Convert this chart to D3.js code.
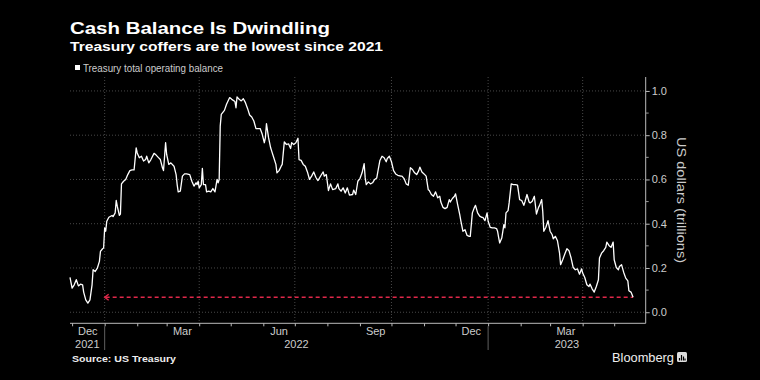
<!DOCTYPE html>
<html>
<head>
<meta charset="utf-8">
<script src="https://cdn.jsdelivr.net/npm/d3@7"></script>
<style>
  html, body { margin: 0; padding: 0; background: #000; }
  svg { display: block; }
  text { font-family: "Liberation Sans", Arial, sans-serif; }
</style>
</head>
<body>
<svg id="chart" width="760" height="380"></svg>
<script>
// ---------------- DATA ----------------
const title = "Cash Balance Is Dwindling";
const subtitle = "Treasury coffers are the lowest since 2021";
const legendLabel = "Treasury total operating balance";
const sourceText = "Source: US Treasury";
const axisTitle = "US dollars (trillions)";

const dates = [
 "2021-11-29","2021-12-01","2021-12-03","2021-12-05","2021-12-07","2021-12-09","2021-12-11","2021-12-12","2021-12-14","2021-12-16",
 "2021-12-18","2021-12-20","2021-12-21","2021-12-23","2021-12-25","2021-12-27","2021-12-28","2021-12-30","2021-12-31",
 "2022-01-01","2022-01-02","2022-01-03","2022-01-05","2022-01-08","2022-01-09","2022-01-11","2022-01-12","2022-01-13","2022-01-15",
 "2022-01-16","2022-01-17","2022-01-19","2022-01-21","2022-01-23","2022-01-25","2022-01-27","2022-01-29","2022-01-31",
 "2022-02-01","2022-02-03","2022-02-05","2022-02-07","2022-02-09","2022-02-10","2022-02-12","2022-02-14","2022-02-17","2022-02-19",
 "2022-02-21","2022-02-23","2022-02-25","2022-02-26","2022-02-28",
 "2022-03-01","2022-03-03","2022-03-05","2022-03-08","2022-03-10","2022-03-11","2022-03-12","2022-03-14","2022-03-16","2022-03-18",
 "2022-03-20","2022-03-23","2022-03-25","2022-03-27","2022-03-29","2022-03-30","2022-03-31",
 "2022-04-01","2022-04-03","2022-04-04","2022-04-05","2022-04-07","2022-04-08","2022-04-10","2022-04-12","2022-04-14","2022-04-16",
 "2022-04-18","2022-04-19","2022-04-20","2022-04-21","2022-04-22","2022-04-25","2022-04-27","2022-04-30",
 "2022-05-02","2022-05-05","2022-05-06","2022-05-07","2022-05-09","2022-05-11","2022-05-13","2022-05-15","2022-05-17","2022-05-19",
 "2022-05-21","2022-05-23","2022-05-25","2022-05-27","2022-05-29","2022-05-31",
 "2022-06-02","2022-06-03","2022-06-04","2022-06-06","2022-06-08","2022-06-09","2022-06-11","2022-06-13","2022-06-14","2022-06-16",
 "2022-06-18","2022-06-19","2022-06-21","2022-06-23","2022-06-25","2022-06-27","2022-06-28","2022-06-30",
 "2022-07-02","2022-07-04","2022-07-05","2022-07-07","2022-07-09","2022-07-11","2022-07-13","2022-07-15","2022-07-17","2022-07-19",
 "2022-07-21","2022-07-23","2022-07-26","2022-07-28","2022-07-29","2022-07-31",
 "2022-08-02","2022-08-04","2022-08-06","2022-08-09","2022-08-11","2022-08-12","2022-08-14","2022-08-16","2022-08-18","2022-08-20",
 "2022-08-22","2022-08-25","2022-08-26","2022-08-28","2022-08-30",
 "2022-09-01","2022-09-03","2022-09-05","2022-09-06","2022-09-07","2022-09-09","2022-09-11","2022-09-13","2022-09-15","2022-09-17",
 "2022-09-18","2022-09-20","2022-09-22","2022-09-24","2022-09-26","2022-09-27","2022-09-29",
 "2022-10-01","2022-10-03","2022-10-05","2022-10-07","2022-10-10","2022-10-11","2022-10-13","2022-10-15","2022-10-17","2022-10-19",
 "2022-10-21","2022-10-23","2022-10-25","2022-10-27","2022-10-28","2022-10-30",
 "2022-11-01","2022-11-03","2022-11-05","2022-11-06","2022-11-08","2022-11-10","2022-11-12","2022-11-14","2022-11-16","2022-11-17",
 "2022-11-19","2022-11-21","2022-11-23","2022-11-25","2022-11-26","2022-11-28","2022-11-30",
 "2022-12-01","2022-12-03","2022-12-05","2022-12-06","2022-12-08","2022-12-10","2022-12-12","2022-12-14","2022-12-15","2022-12-17",
 "2022-12-19","2022-12-20","2022-12-22","2022-12-24","2022-12-26","2022-12-27","2022-12-29","2022-12-31",
 "2023-01-01","2023-01-03","2023-01-05","2023-01-07","2023-01-09","2023-01-10","2023-01-11","2023-01-12","2023-01-14","2023-01-16",
 "2023-01-17","2023-01-18","2023-01-20","2023-01-21","2023-01-23","2023-01-25","2023-01-27","2023-01-29","2023-01-31",
 "2023-02-02","2023-02-04","2023-02-05","2023-02-07","2023-02-09","2023-02-10","2023-02-12","2023-02-14","2023-02-16","2023-02-18",
 "2023-02-19","2023-02-21","2023-02-22","2023-02-23","2023-02-25","2023-02-27",
 "2023-03-01","2023-03-03","2023-03-04","2023-03-06","2023-03-08","2023-03-10","2023-03-11","2023-03-13","2023-03-15","2023-03-17",
 "2023-03-19","2023-03-21","2023-03-23","2023-03-25","2023-03-27","2023-03-29","2023-03-31",
 "2023-04-01","2023-04-03","2023-04-05","2023-04-07","2023-04-08","2023-04-10","2023-04-12","2023-04-14","2023-04-16","2023-04-17",
 "2023-04-19","2023-04-21","2023-04-23","2023-04-24","2023-04-26","2023-04-28","2023-04-30",
 "2023-05-01","2023-05-03","2023-05-05","2023-05-06","2023-05-08","2023-05-10","2023-05-12","2023-05-14","2023-05-15","2023-05-17",
 "2023-05-19"
];

const balance = [
 0.157,0.109,0.124,0.147,0.119,0.127,0.124,0.091,0.056,0.041,
 0.056,0.124,0.192,0.184,0.199,0.230,0.275,0.287,0.290,
 0.381,0.366,0.411,0.429,0.437,0.432,0.449,0.505,0.479,0.438,
 0.444,0.580,0.592,0.600,0.622,0.640,0.643,0.643,0.743,
 0.720,0.698,0.705,0.683,0.690,0.705,0.675,0.690,0.718,0.710,
 0.700,0.690,0.653,0.640,0.766,
 0.713,0.668,0.675,0.660,0.622,0.577,0.544,0.547,0.615,0.625,
 0.625,0.622,0.592,0.570,0.585,0.577,0.592,
 0.562,0.577,0.650,0.577,0.577,0.544,0.547,0.544,0.559,0.544,
 0.600,0.585,0.600,0.841,0.894,0.912,0.940,0.970,
 0.962,0.952,0.924,0.973,0.962,0.955,0.965,0.947,0.921,0.891,
 0.882,0.864,0.830,0.830,0.830,0.804,
 0.766,0.789,0.852,0.789,0.743,0.728,0.698,0.668,0.630,0.640,
 0.660,0.668,0.770,0.758,0.761,0.740,0.766,0.758,
 0.766,0.786,0.690,0.686,0.668,0.660,0.634,0.600,0.615,0.634,
 0.610,0.595,0.619,0.634,0.615,0.622,
 0.550,0.580,0.554,0.559,0.580,0.559,0.547,0.562,0.539,0.562,
 0.529,0.532,0.552,0.532,0.592,
 0.604,0.630,0.671,0.607,0.577,0.589,0.580,0.585,0.600,0.607,
 0.634,0.686,0.705,0.698,0.680,0.695,0.705,
 0.680,0.640,0.625,0.619,0.615,0.615,0.604,0.580,0.574,0.653,
 0.645,0.630,0.622,0.640,0.656,0.634,
 0.625,0.615,0.554,0.550,0.532,0.524,0.544,0.517,0.524,0.498,
 0.474,0.468,0.474,0.509,0.498,0.514,0.524,
 0.535,0.486,0.441,0.414,0.366,0.373,0.347,0.343,0.343,0.449,
 0.474,0.483,0.449,0.434,0.429,0.429,0.414,0.449,
 0.411,0.384,0.381,0.381,0.378,0.366,0.338,0.313,0.335,0.396,
 0.381,0.449,0.459,0.494,0.580,0.577,0.577,0.574,0.509,
 0.505,0.483,0.498,0.532,0.498,0.494,0.502,0.524,0.444,0.474,
 0.483,0.509,0.456,0.366,0.384,0.414,
 0.366,0.350,0.332,0.343,0.323,0.267,0.215,0.237,0.263,0.287,
 0.278,0.245,0.202,0.192,0.196,0.172,0.196,
 0.177,0.157,0.124,0.116,0.127,0.106,0.091,0.116,0.147,0.245,
 0.267,0.278,0.293,0.317,0.302,0.293,0.317,
 0.237,0.202,0.192,0.207,0.215,0.181,0.154,0.142,0.097,0.091,
 0.068
];

const yTicks = [0.0, 0.2, 0.4, 0.6, 0.8, 1.0];
const yMinorTicks = [0.1, 0.3, 0.5, 0.7, 0.9];
const xDomain = ["2021-11-29", "2023-05-31"];
const gridDates = ["2022-01-01", "2022-04-01", "2022-07-01", "2022-10-01", "2023-01-01", "2023-04-01"];
const monthLabels = ["Dec", "Mar", "Jun", "Sep", "Dec", "Mar"];
const monthLabelDates = ["2021-12-16", "2022-03-16", "2022-06-16", "2022-09-16", "2022-12-16", "2023-03-16"];
const yearLabels = ["2021", "2022", "2023"];
const yearSpans = [["2021-11-29", "2022-01-01"], ["2022-01-01", "2023-01-01"], ["2023-01-01", "2023-05-31"]];
const yearBreaks = ["2022-01-01", "2023-01-01"];
const lowLevel = 0.068;
const lowStart = "2022-01-01";

// ---------------- CHART ----------------
(function () {
const parse = d3.utcParse("%Y-%m-%d");
const data = dates.map((d, i) => ({ date: parse(d), value: balance[i] }));

const svg = d3.select("#chart");
svg.append("rect").attr("width", 760).attr("height", 380).attr("fill", "#000");

const pLeft = 70, pRight = 645.7, pTop = 77, pBottom = 323.3;
const x = d3.scaleUtc().domain(xDomain.map(parse)).range([pLeft, pRight]);
const y = d3.scaleLinear().domain([-0.05, 1.063]).range([pBottom, pTop]);

// Titles
const boldFont = "DejaVu Sans, Verdana, sans-serif";
svg.append("text").attr("x", 70).attr("y", 34.3).attr("fill", "#fff")
  .attr("font-family", boldFont).attr("font-size", 16).attr("font-weight", "bold")
  .attr("textLength", 260).attr("lengthAdjust", "spacingAndGlyphs").text(title);
svg.append("text").attr("x", 70).attr("y", 50.7).attr("fill", "#fff")
  .attr("font-family", boldFont).attr("font-size", 12).attr("font-weight", "bold")
  .attr("textLength", 313).attr("lengthAdjust", "spacingAndGlyphs").text(subtitle);

// Legend
svg.append("rect").attr("x", 75).attr("y", 65).attr("width", 5).attr("height", 5).attr("fill", "#fff");
svg.append("text").attr("x", 83).attr("y", 71.5).attr("fill", "#ccc")
  .attr("font-size", 10).attr("textLength", 140).attr("lengthAdjust", "spacingAndGlyphs").text(legendLabel);

// Grid
const grid = svg.append("g").attr("stroke", "#5a5a5a").attr("stroke-width", 0.8).attr("stroke-dasharray", "1,2");
grid.selectAll("line.h").data(yTicks).join("line").attr("class", "h")
  .attr("x1", pLeft).attr("x2", pRight)
  .attr("y1", d => y(d)).attr("y2", d => y(d));
grid.selectAll("line.v").data(gridDates.map(parse)).join("line").attr("class", "v")
  .attr("x1", d => x(d)).attr("x2", d => x(d))
  .attr("y1", pTop).attr("y2", pBottom);

// Right axis
const yAxis = d3.axisRight(y).tickValues(yTicks).tickFormat(d3.format(".1f")).tickSize(4).tickPadding(2);
const gy = svg.append("g").attr("transform", `translate(${pRight},0)`).call(yAxis);
gy.select(".domain").attr("stroke", "#bbb").attr("d", `M0,${pTop}V${pBottom}`);
gy.selectAll(".tick line").attr("stroke", "#bbb");
gy.selectAll(".tick text").attr("fill", "#ccc").attr("font-size", 11)
  .attr("font-family", "Liberation Sans, Arial, sans-serif");
const gyMinor = svg.append("g").attr("transform", `translate(${pRight},0)`);
gyMinor.selectAll("line").data(yMinorTicks).join("line")
  .attr("x1", 0).attr("x2", 3).attr("y1", d => y(d)).attr("y2", d => y(d)).attr("stroke", "#999");

// Axis title
svg.append("text").attr("transform", `translate(677,200) rotate(90)`)
  .attr("text-anchor", "middle").attr("fill", "#ccc").attr("font-size", 13.5)
  .attr("textLength", 126).attr("lengthAdjust", "spacingAndGlyphs").text(axisTitle);

// Bottom axis
const monthTicks = d3.utcMonth.range(parse("2021-12-01"), parse("2023-06-01"));
const xAxis = d3.axisBottom(x).tickValues(monthTicks).tickSize(3).tickFormat("");
const gx = svg.append("g").attr("transform", `translate(0,${pBottom})`).call(xAxis);
gx.select(".domain").attr("stroke", "#bbb").attr("d", `M${pLeft},0H${pRight}`);
gx.selectAll(".tick line").attr("stroke", "#bbb");

svg.append("g").selectAll("text").data(monthLabels).join("text")
  .attr("x", (d, i) => x(parse(monthLabelDates[i]))).attr("y", 335)
  .attr("text-anchor", "middle").attr("fill", "#ccc").attr("font-size", 11).text(d => d);
svg.append("g").selectAll("text").data(yearLabels).join("text")
  .attr("x", (d, i) => (x(parse(yearSpans[i][0])) + x(parse(yearSpans[i][1]))) / 2).attr("y", 347.5)
  .attr("text-anchor", "middle").attr("fill", "#ccc").attr("font-size", 11).text(d => d);
svg.append("g").selectAll("line").data(yearBreaks.map(parse)).join("line")
  .attr("x1", d => x(d)).attr("x2", d => x(d)).attr("y1", pBottom + 3).attr("y2", 350)
  .attr("stroke", "#777").attr("stroke-width", 0.8);

// Low-level annotation (red dashed arrow)
const lastDate = data[data.length - 1].date;
const ax0 = x(parse(lowStart)), ax1 = x(lastDate), ay = y(lowLevel);
svg.append("line").attr("x1", ax0 + 1).attr("x2", ax1).attr("y1", ay).attr("y2", ay)
  .attr("stroke", "#e0284a").attr("stroke-width", 1.6).attr("stroke-dasharray", "4,3");
svg.append("path").attr("d", `M${ax0 + 4},${ay - 3}L${ax0},${ay}L${ax0 + 4},${ay + 3}`)
  .attr("fill", "none").attr("stroke", "#e0284a").attr("stroke-width", 1.4);

// Line
const line = d3.line().x(d => x(d.date)).y(d => y(d.value));
svg.append("path").datum(data).attr("d", line)
  .attr("fill", "none").attr("stroke", "#fff").attr("stroke-width", 1.3).attr("stroke-linejoin", "round");

// Footer
svg.append("text").attr("x", 72).attr("y", 361.5).attr("fill", "#eee")
  .attr("font-family", boldFont).attr("font-size", 9.5).attr("font-weight", "bold")
  .attr("textLength", 104).attr("lengthAdjust", "spacingAndGlyphs").text(sourceText);
svg.append("text").attr("x", 612).attr("y", 362).attr("fill", "#eee")
  .attr("font-size", 13).attr("textLength", 62).attr("lengthAdjust", "spacingAndGlyphs").text("Bloomberg");
const logo = svg.append("g").attr("transform", "translate(677,352)");
logo.append("rect").attr("width", 10).attr("height", 10).attr("rx", 1.5).attr("fill", "#ddd");
logo.selectAll("line").data([[2.5, 6], [4.5, 3], [6.5, 4.5], [8, 6.5]]).join("line")
  .attr("x1", d => d[0]).attr("x2", d => d[0]).attr("y1", d => d[1]).attr("y2", 8.5)
  .attr("stroke", "#000").attr("stroke-width", 1.2);
})();
</script>
</body>
</html>
